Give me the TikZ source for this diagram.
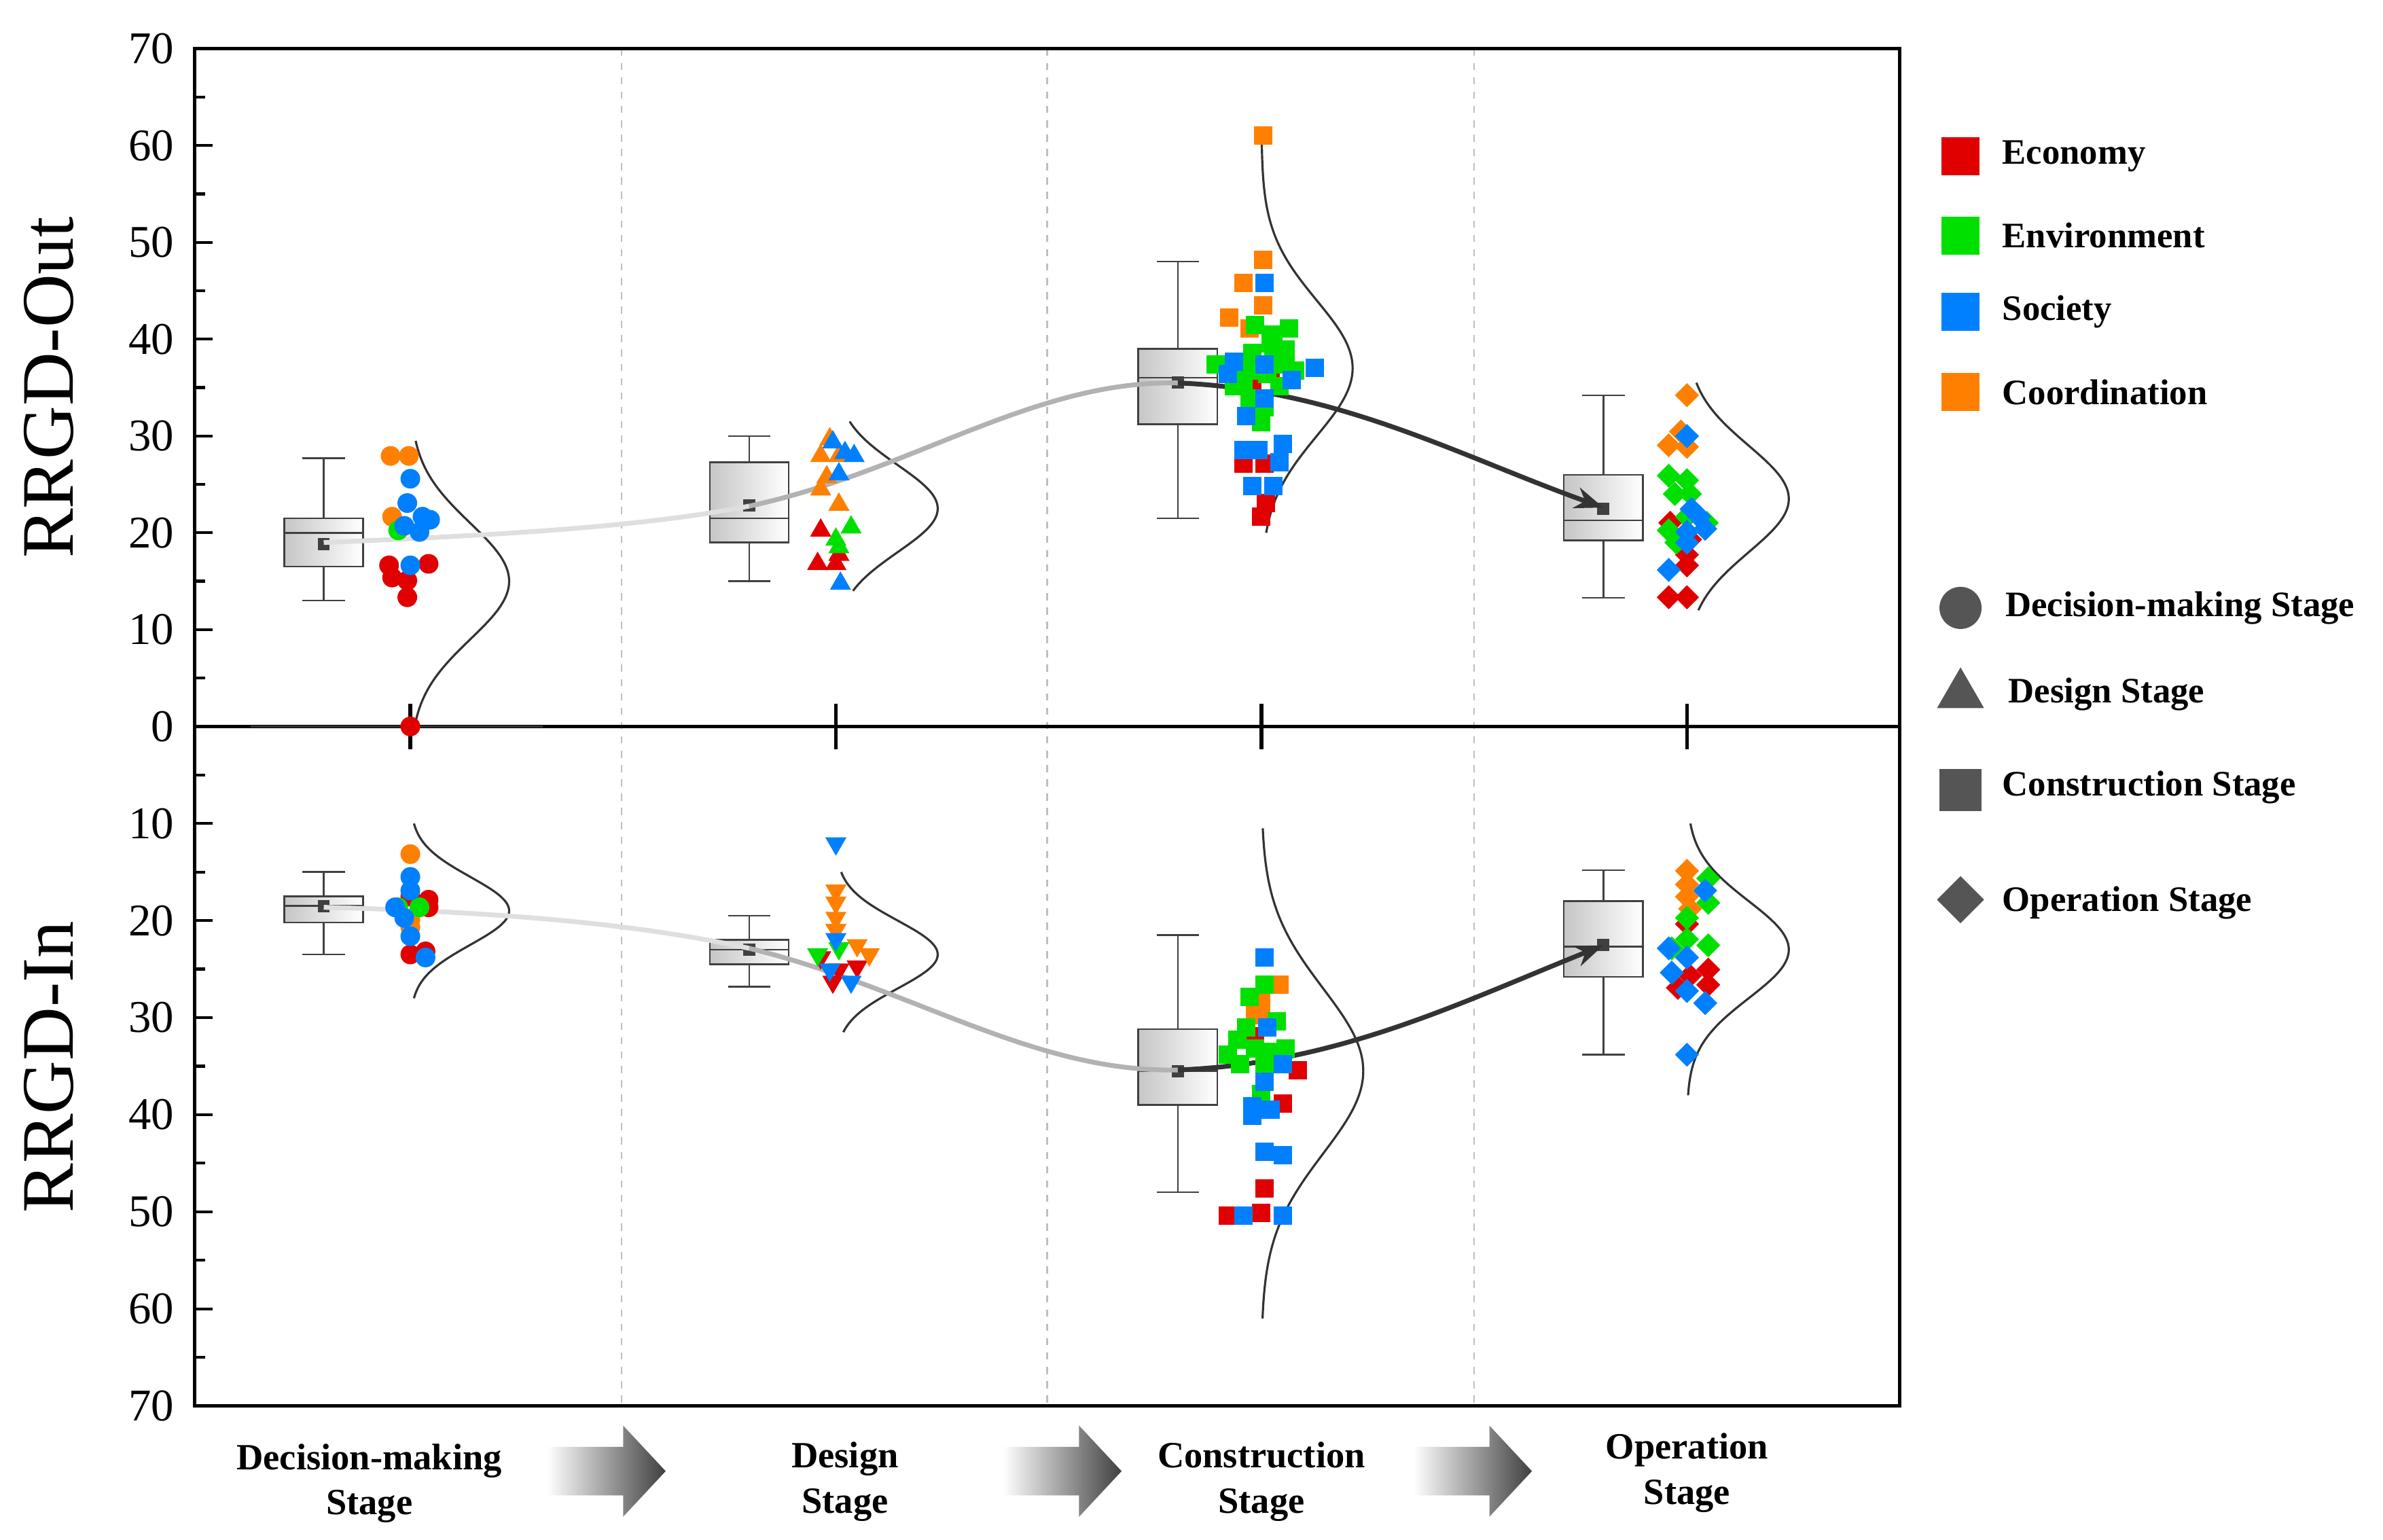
\documentclass[tikz,border=0pt]{standalone}
\usepackage{fontspec}
\setmainfont{Liberation Serif}
\usetikzlibrary{shapes.geometric,arrows.meta}
\definecolor{ered}{HTML}{E00000}
\definecolor{egrn}{HTML}{00E000}
\definecolor{eblu}{HTML}{0080FF}
\definecolor{eorg}{HTML}{FF8000}
\definecolor{leg}{HTML}{555555}
\tikzset{
 mk/.style={inner sep=0pt,draw=none},
 dc/.style={mk,circle,minimum size=0.29cm},
 dt/.style={mk,regular polygon,regular polygon sides=3,minimum size=0.36cm},
 dtd/.style={mk,regular polygon,regular polygon sides=3,shape border rotate=180,minimum size=0.36cm},
 ds/.style={mk,rectangle,minimum size=0.27cm},
 dd/.style={mk,diamond,minimum size=0.36cm},
 tick/.style={font=\fontsize{19}{19}\selectfont},
 bl/.style={font=\bfseries\fontsize{15.5}{19}\selectfont,align=center},
 lg/.style={font=\bfseries\fontsize{15}{18}\selectfont,anchor=west},
 dist/.style={line width=0.9pt,black!80},
 sep/.style={dashed,gray!50,line width=0.6pt},
}
\newcommand\mybox[8]{%
 \draw[line width=0.7pt,black!75] (#1-14,{478+#2*#3}) -- (#1+14,{478+#2*#3}) (#1,{478+#2*#3}) -- (#1,{478+#2*#4})
   (#1,{478+#2*#6}) -- (#1,{478+#2*#7}) (#1-14,{478+#2*#7}) -- (#1+14,{478+#2*#7});
 \draw[line width=0.7pt,black!75,left color=gray!45,right color=white] (#1-26,{478+#2*#4}) rectangle (#1+26,{478+#2*#6});
 \draw[line width=0.7pt,black!75] (#1-26,{478+#2*#5}) -- (#1+26,{478+#2*#5});
 \fill[black!75] (#1-4,{478+#2*#8-4}) rectangle (#1+4,{478+#2*#8+4});}
\newcommand\mydist[7]{% base, scale, A, mu, sigma, vmin, vmax
 \draw[dist] plot[smooth,samples=60,domain=#6:#7,variable=\v] ({#1+#3*exp(-((\v-#4)/#5)^2/2)},{478+#2*\v});}
\begin{document}
\begin{tikzpicture}[x=0.022372cm,y=-0.022372cm]
\useasboundingbox (0,0) rectangle (1568,1013);
\foreach \x in {409,689,970} \draw[sep] (\x,32) -- (\x,925);
\draw[line width=1.6pt] (128,32) rectangle (1250,925);
\draw[line width=1.6pt] (128,478) -- (1250,478);
\foreach \v in {0,10,...,70} {
 \draw[line width=1.2pt] (128,{478-6.371*\v}) -- (140,{478-6.371*\v});
 \node[tick,anchor=east] at (120,{478-6.371*\v}) {\v};}
\foreach \v in {5,15,...,65} \draw[line width=1.2pt] (128,{478-6.371*\v}) -- (135,{478-6.371*\v});
\foreach \v in {10,20,...,70} {
 \draw[line width=1.2pt] (128,{478+6.386*\v}) -- (140,{478+6.386*\v});
 \node[tick,anchor=east] at (120,{478+6.386*\v}) {\v};}
\foreach \v in {5,15,...,65} \draw[line width=1.2pt] (128,{478+6.386*\v}) -- (135,{478+6.386*\v});
\foreach \x in {270,550,830,1110} \draw[line width=1.6pt] (\x,463) -- (\x,493);
\node[rotate=90,font=\fontsize{31}{31}\selectfont] at (32,255) {RRGD-Out};
\node[rotate=90,font=\fontsize{31}{31}\selectfont] at (32,702) {RRGD-In};
\mybox{213}{-6.371}{13}{16.5}{20}{21.5}{27.7}{18.8}
\mybox{493}{-6.371}{15}{19}{21.5}{27.3}{30}{22.8}
\mybox{775}{-6.371}{21.5}{31.2}{36}{39}{48}{35.5}
\mybox{1055}{-6.371}{13.3}{19.2}{21.3}{26}{34.2}{22.5}
\mybox{213}{6.386}{15}{17.5}{18.5}{20.2}{23.5}{18.5}
\mybox{493}{6.386}{19.5}{22}{23}{24.5}{26.8}{23}
\mybox{775}{6.386}{21.5}{31.2}{35.5}{39}{48}{35.5}
\mybox{1055}{6.386}{14.8}{18}{22.7}{25.8}{33.8}{22.5}
\draw[dist] (165,478) -- (357,478);
\mydist{270}{-6.371}{65}{15}{6}{0}{29.5}
\mydist{550}{-6.371}{67}{22.5}{4.5}{14}{31.5}
\mydist{830}{-6.371}{60}{37}{7}{20}{61}
\mydist{1110}{-6.371}{67}{23.5}{5.5}{12}{35.5}
\mydist{270}{6.386}{65}{19}{3.5}{10}{28}
\mydist{550}{6.386}{67}{23.5}{3.5}{15}{31.5}
\mydist{830}{6.386}{67}{35.5}{8.5}{10.5}{61}
\mydist{1110}{6.386}{67}{23}{5}{10}{38}
\draw[line width=2pt,gray!25] (213,357) .. controls (330,352) and (420,347) .. (493,333);
\draw[line width=2pt,gray!60] (493,333) .. controls (600,310) and (680,250) .. (775,252);
\draw[line width=2pt,black!80,-{Stealth[length=12pt]}] (775,252) .. controls (880,256) and (960,300) .. (1055,334);
\draw[line width=2pt,gray!25] (213,597) .. controls (330,600) and (420,608) .. (493,624);
\draw[line width=2pt,gray!60] (493,624) .. controls (600,650) and (680,706) .. (775,704);
\draw[line width=2pt,black!80,-{Stealth[length=12pt]}] (775,704) .. controls (880,700) and (960,660) .. (1055,622);
% ---- points top
\foreach \x/\y in {256/372,268/382,258/380,282/371,268/393,270/478} \node[dc,fill=ered] at (\x,\y) {};
\foreach \x/\y in {257/300,269/300,258/340} \node[dc,fill=eorg] at (\x,\y) {};
\foreach \x/\y in {262/349} \node[dc,fill=egrn] at (\x,\y) {};
\foreach \x/\y in {270/315,268/331,278/340,283/342,270/372,276/350,266/346} \node[dc,fill=eblu] at (\x,\y) {};
\foreach \x/\y in {540/349,552/365,538/371,550/371} \node[dt,fill=ered] at (\x,\y) {};
\foreach \x/\y in {540/300,552/300,546/289,544/314,552/332,540/322} \node[dt,fill=eorg] at (\x,\y) {};
\foreach \x/\y in {560/347,550/355,552/360} \node[dt,fill=egrn] at (\x,\y) {};
\foreach \x/\y in {548/291,556/298,562/300,552/312,553/384} \node[dt,fill=eblu] at (\x,\y) {};
\foreach \x/\y in {818/305,832/305,830/340,833/331,824/256,836/245} \node[ds,fill=ered] at (\x,\y) {};
\foreach \x/\y in {831/89,831/171,818/186,831/201,809/209,822/216} \node[ds,fill=eorg] at (\x,\y) {};
\foreach \x/\y in {800/240,812/238,822/244,834/246,846/240,824/232,836/226,848/216,826/214,838/220,822/262,832/268,842/254,852/244,818/250,830/278,846/230,812/254,838/236}
  \node[ds,fill=egrn] at (\x,\y) {};
\foreach \x/\y in {832/186,808/246,820/274,832/262,844/292,818/296,828/296,842/304,824/320,838/320,832/240,865/242,850/250,812/238}
  \node[ds,fill=eblu] at (\x,\y) {};
\foreach \x/\y in {1099/344,1112/355,1098/393,1110/393,1110/372,1110/365} \node[dd,fill=ered] at (\x,\y) {};
\foreach \x/\y in {1110/260,1098/293,1110/294,1106/284} \node[dd,fill=eorg] at (\x,\y) {};
\foreach \x/\y in {1098/313,1110/316,1102/325,1112/325,1098/349,1110/340,1123/344,1103/357} \node[dd,fill=egrn] at (\x,\y) {};
\foreach \x/\y in {1110/287,1098/375,1110/350,1122/348,1113/335,1118/340,1110/357} \node[dd,fill=eblu] at (\x,\y) {};
% ---- points bottom
\foreach \x/\y in {282/597,270/590,282/592,270/628,280/626} \node[dc,fill=ered] at (\x,\y) {};
\foreach \x/\y in {270/562,270/610,270/605} \node[dc,fill=eorg] at (\x,\y) {};
\foreach \x/\y in {262/597,276/597} \node[dc,fill=egrn] at (\x,\y) {};
\foreach \x/\y in {270/577,270/586,260/597,270/616,280/630,266/604} \node[dc,fill=eblu] at (\x,\y) {};
\foreach \x/\y in {540/630,552/638,548/646,564/636} \node[dtd,fill=ered] at (\x,\y) {};
\foreach \x/\y in {550/586,550/594,550/604,550/612,564/622,572/628} \node[dtd,fill=eorg] at (\x,\y) {};
\foreach \x/\y in {538/628,552/624} \node[dtd,fill=egrn] at (\x,\y) {};
\foreach \x/\y in {550/555,550/618,546/638,560/646} \node[dtd,fill=eblu] at (\x,\y) {};
\foreach \x/\y in {854/704,844/726,832/782,808/800,830/798,826/682} \node[ds,fill=ered] at (\x,\y) {};
\foreach \x/\y in {842/648,830/660,826/668,836/672} \node[ds,fill=eorg] at (\x,\y) {};
\foreach \x/\y in {822/656,832/648,840/672,814/684,826/690,838/692,846/690,808/694,816/700,832/700,820/676,830/720}
  \node[ds,fill=egrn] at (\x,\y) {};
\foreach \x/\y in {832/630,834/676,844/700,832/712,824/728,836/730,824/734,832/758,844/760,818/800,844/800}
  \node[ds,fill=eblu] at (\x,\y) {};
\foreach \x/\y in {1110/608,1124/638,1112/642,1104/650,1124/648} \node[dd,fill=ered] at (\x,\y) {};
\foreach \x/\y in {1110/573,1110/582,1110/590,1112/598} \node[dd,fill=eorg] at (\x,\y) {};
\foreach \x/\y in {1124/578,1124/594,1110/604,1110/618,1124/622,1100/624} \node[dd,fill=egrn] at (\x,\y) {};
\foreach \x/\y in {1122/586,1098/624,1100/640,1110/652,1122/660,1110/694,1110/630} \node[dd,fill=eblu] at (\x,\y) {};
% legend
\node[ds,fill=ered,minimum size=0.56cm] (l1) at (1290,103) {};
\node[ds,fill=egrn,minimum size=0.56cm] (l2) at (1290,155) {};
\node[ds,fill=eblu,minimum size=0.56cm] (l3) at (1290,205) {};
\node[ds,fill=eorg,minimum size=0.56cm] (l4) at (1290,258) {};
\node[lg] at (1312,103) {Economy};
\node[lg] at (1312,155) {Environment};
\node[lg] at (1312,205) {Society};
\node[lg] at (1312,258) {Coordination};
\node[dc,fill=leg,minimum size=0.62cm] at (1290,400) {};
\node[dt,fill=leg,minimum size=0.8cm] at (1290,457) {};
\node[ds,fill=leg,minimum size=0.62cm] at (1290,520) {};
\node[dd,fill=leg,minimum size=0.7cm] at (1290,592) {};
\node[lg] at (1314,400) {Decision-making Stage};
\node[lg] at (1316,457) {Design Stage};
\node[lg] at (1312,518) {Construction Stage};
\node[lg] at (1312,594) {Operation Stage};
% bottom labels and arrows
\node[bl] at (243,976) {Decision-making\\Stage};
\node[bl] at (556,975) {Design\\Stage};
\node[bl] at (830,975) {Construction\\Stage};
\node[bl] at (1110,969) {Operation\\Stage};
\foreach \a in {360,660,930}
 \shade[left color=white,right color=black!75] (\a,952) -- (\a+50,952) -- (\a+50,938) -- (\a+78,968) -- (\a+50,998) -- (\a+50,984) -- (\a,984) -- cycle;
\end{tikzpicture}
\end{document}
